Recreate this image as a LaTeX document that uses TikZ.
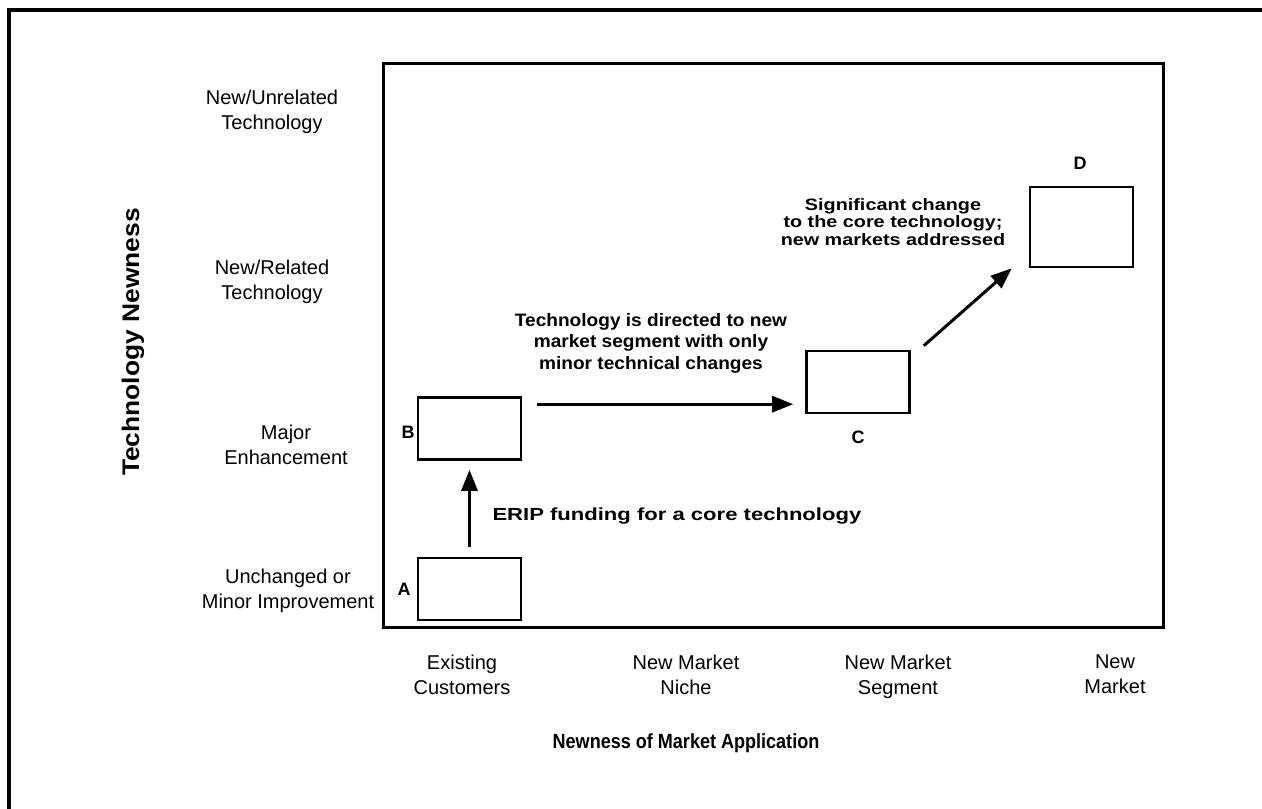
\documentclass[tikz,border=0pt]{standalone}
\usepackage{fontspec}
\setmainfont{Liberation Sans}
\newfontface\notewide{Liberation Sans Bold}[FakeStretch=1.2]
\newfontface\noteerip{Liberation Sans Bold}[FakeStretch=1.26]
\newfontface\notemid{Liberation Sans Bold}[FakeStretch=1.06]
\newfontface\axiswide{Liberation Sans Bold}[FakeStretch=1.1]
\newfontface\axisnarrow{Liberation Sans Bold}[FakeStretch=0.88]
\usetikzlibrary{arrows.meta}
\begin{document}
\begin{tikzpicture}[x=1pt,y=-1pt,
  stage/.style={draw,line width=2.6pt,minimum width=103pt,minimum height=62pt,inner sep=0pt},
  axislabel/.style={align=center,font=\fontsize{20}{25}\selectfont},
  letter/.style={font=\bfseries\fontsize{18}{20}\selectfont},
  arr/.style={line width=3pt,-{Triangle[length=21pt,width=16pt]}}]
\useasboundingbox (0,0) rectangle (1262,809);
% outer frame (top and left edges)
\draw[line width=4pt] (9,809) -- (9,10) -- (1262,10);
% plot area
\draw[line width=3pt] (383,63) rectangle (1163,627);
% stages
\node[stage] (A) at (469.5,589) {};
\node[stage] (B) at (469.5,428.5) {};
\node[stage] (C) at (858,382) {};
\node[stage,minimum height=80pt] (D) at (1081.5,227) {};
\node[letter] (la) at (404,589) {A};
\node[letter] (lb) at (408,432) {B};
\node[letter] (lc) at (858,437) {C};
\node[letter] (ld) at (1080,163) {D};
% transitions
\draw[arr,shorten <=10pt,shorten >=9pt] (A.north) -- (B.south);
\draw[arr,shorten <=15pt,shorten >=12pt] ([yshift=-8pt]B.north east) -- ([yshift=-8pt]B.north east -| C.west);
\draw[arr] ([xshift=13pt,yshift=4pt]C.north east) -- ([xshift=-17pt]D.south west);
% annotations
\node[anchor=west,font=\noteerip\fontsize{17.5}{20}\selectfont] (erip) at (489,516) {ERIP funding for a core technology};
\node[align=center,font=\notemid\fontsize{18}{21.5}\selectfont] (seg) at (651,343) {Technology is directed to new\\market segment with only\\minor technical changes};
\node[align=center,font=\notewide\fontsize{16.5}{17.5}\selectfont] (sig) at (893,222) {Significant change\\to the core technology;\\new markets addressed};
% vertical axis
\node[axislabel] (y4) at (272,112) {New/Unrelated\\Technology};
\node[axislabel] (y3) at (272,282) {New/Related\\Technology};
\node[axislabel] (y2) at (286,445) {Major\\Enhancement};
\node[axislabel] (y1) at (288,591) {Unchanged or\\Minor Improvement};
\node[rotate=90,font=\axiswide\fontsize{24}{28}\selectfont] (ytitle) at (133,342) {Technology Newness};
% horizontal axis
\node[axislabel,anchor=north] (x1) at (462,651) {Existing\\Customers};
\node[axislabel,anchor=north] (x2) at (686,651) {New Market\\Niche};
\node[axislabel,anchor=north] (x3) at (898,651) {New Market\\Segment};
\node[axislabel,anchor=north] (x4) at (1115,651) {New\\Market};
\node[font=\axisnarrow\fontsize{20.5}{24}\selectfont] (xtitle) at (686,743) {Newness of Market Application};
\end{tikzpicture}
\end{document}
